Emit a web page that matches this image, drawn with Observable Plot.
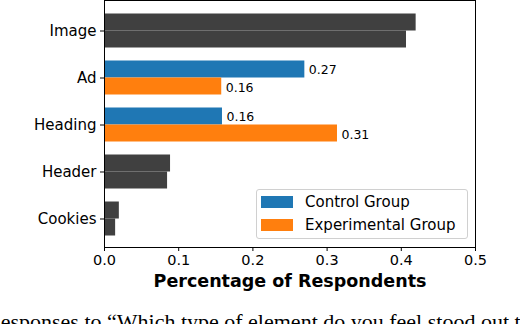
<!DOCTYPE html>
<html>
<head>
<meta charset="utf-8">
<script src="https://cdn.jsdelivr.net/npm/d3@7"></script>
<script src="https://cdn.jsdelivr.net/npm/@observablehq/plot@0.6"></script>
<style>
  html, body { margin: 0; padding: 0; background: white; }
  #wrap { position: relative; width: 520px; height: 324px; overflow: hidden; background: white; font-family: "DejaVu Sans", sans-serif; }
  #chart svg { display: block; }
  .legend { position: absolute; left: 256px; top: 189px; width: 210px; height: 48px; border: 1px solid #d0d0d0; border-radius: 3px; background: rgba(255,255,255,0.8); }
  .sw { position: absolute; width: 32px; height: 12px; }
  .lt { position: absolute; font-size: 15px; line-height: 15px; color: #000; white-space: nowrap; }
  .caption { position: absolute; left: -14px; top: 310.5px; font-family: "Liberation Serif", serif; font-size: 22px; line-height: 22px; white-space: nowrap; color: #000; }
</style>
</head>
<body>
<div id="wrap">
  <div id="chart"></div>
  <div id="legend"></div>
  <div class="caption" id="caption"></div>
</div>
<script>
const categories = ["Image", "Ad", "Heading", "Header", "Cookies"];
const groups = ["Control Group", "Experimental Group"];
const controlValues = [0.42, 0.27, 0.159, 0.089, 0.020];
const experimentalValues = [0.407, 0.158, 0.314, 0.085, 0.015];
const highlighted = ["Ad", "Heading"];
const xTicks = [0, 0.1, 0.2, 0.3, 0.4, 0.5];
const groupColors = ["#1f77b4", "#ff7f0e"];
const neutralColor = "#404040";
const xLabel = "Percentage of Respondents";
const captionText = "Responses to \u201cWhich type of element do you feel stood out the most?\u201d";

const control = categories.map((c, i) => ({category: c, value: controlValues[i]}));
const experimental = categories.map((c, i) => ({category: c, value: experimentalValues[i]}));
const fillFor = (g) => (d) => highlighted.includes(d.category) ? groupColors[g] : neutralColor;
const hl = (rows) => rows.filter((d) => highlighted.includes(d.category));

const half = 17;

const chart = Plot.plot({
  width: 520,
  height: 300,
  marginLeft: 104,
  marginRight: 45,
  marginTop: 2,
  marginBottom: 53,
  style: {fontFamily: "DejaVu Sans, sans-serif", fontSize: "14.5px", color: "black", background: "white"},
  x: {domain: [0, 0.5]},
  y: {domain: categories, paddingInner: 0.2766, paddingOuter: 0.2447, round: false},
  marks: [
    Plot.barX(control, {x: "value", y: "category", fill: fillFor(0), insetBottom: half, insetTop: 0}),
    Plot.barX(experimental, {x: "value", y: "category", fill: fillFor(1), insetTop: half, insetBottom: 0}),
    Plot.text(hl(control), {x: "value", y: "category", text: (d) => d3.format(".2f")(d.value), dy: -half / 2, dx: 4, textAnchor: "start", lineAnchor: "middle", fontSize: 12.5, fill: "black"}),
    Plot.text(hl(experimental), {x: "value", y: "category", text: (d) => d3.format(".2f")(d.value), dy: half / 2 + 1, dx: 4, textAnchor: "start", lineAnchor: "middle", fontSize: 12.5, fill: "black"}),
    Plot.frame({stroke: "black", insetTop: -2}),
    Plot.axisY({tickSize: 4, tickPadding: 4, label: null, fontSize: 15}),
    Plot.axisX({ticks: xTicks, tickFormat: d3.format(".1f"), tickSize: 4, tickPadding: 3, label: null}),
    Plot.text([xLabel], {frameAnchor: "bottom", dy: 34, lineAnchor: "middle", text: (d) => d, fontWeight: "bold", fontSize: 17.5, fill: "black"})
  ]
});
document.getElementById("chart").appendChild(chart);

// legend (inside the axes, like matplotlib)
const legend = document.getElementById("legend");
const box = document.createElement("div");
box.className = "legend";
legend.appendChild(box);
groups.forEach((g, i) => {
  const sw = document.createElement("div");
  sw.className = "sw";
  sw.style.left = "261px";
  sw.style.top = (196 + i * 23) + "px";
  sw.style.background = groupColors[i];
  legend.appendChild(sw);
  const t = document.createElement("div");
  t.className = "lt";
  t.style.left = "305px";
  t.style.top = (195 + i * 23) + "px";
  t.textContent = g;
  legend.appendChild(t);
});
document.getElementById("caption").textContent = captionText;
</script>
</body>
</html>
